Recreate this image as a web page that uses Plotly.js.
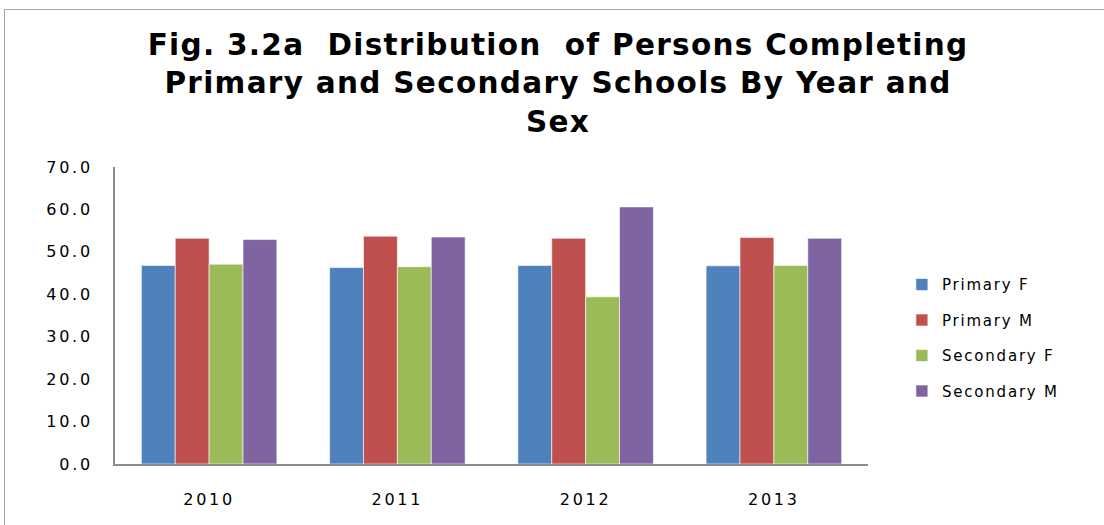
<!DOCTYPE html>
<html>
<head>
<meta charset="utf-8">
<script src="https://cdn.plot.ly/plotly-3.0.1.min.js"></script>
<style>
  html, body { margin: 0; padding: 0; background: #fff; overflow: hidden; }
  #wrap { position: relative; width: 1104px; height: 525px; }
  #chart { position: absolute; left: 0; top: 0; width: 1104px; height: 525px; }
  #frame { position: absolute; left: 4px; top: 9px; width: 1120px; height: 540px; border: 1.5px solid #a6a6a6; pointer-events: none; }
  .xtick text, .ytick text { letter-spacing: 2.7px; }
  .legendtext { letter-spacing: 1.8px; }
  .gtitle { letter-spacing: 1.3px; }
</style>
</head>
<body>
<div id="wrap">
  <div id="chart"></div>
  <div id="frame"></div>
</div>
<script>
const years = ["2010", "2011", "2012", "2013"];
const primaryF = [46.8, 46.3, 46.8, 46.7];
const primaryM = [53.2, 53.7, 53.2, 53.4];
const secondaryF = [47.1, 46.5, 39.4, 46.8];
const secondaryM = [52.9, 53.5, 60.6, 53.2];
const seriesNames = ["Primary F", "Primary M", "Secondary F", "Secondary M"];
const seriesColors = ["#4F81BD", "#C0504D", "#9BBB59", "#8064A2"];
const yTicks = [0, 10, 20, 30, 40, 50, 60, 70];

const seriesValues = [primaryF, primaryM, secondaryF, secondaryM];
const traces = seriesValues.map((vals, i) => ({
  type: "bar",
  x: years,
  y: vals,
  name: seriesNames[i],
  legendgroup: "g" + i,
  marker: { color: seriesColors[i], line: { color: "rgba(255,255,255,0.6)", width: 1 } },
  hoverinfo: "skip"
}));

const layout = {
  width: 1104,
  height: 525,
  margin: { l: 115, r: 236, t: 167, b: 61 },
  paper_bgcolor: "rgba(0,0,0,0)",
  plot_bgcolor: "rgba(0,0,0,0)",
  barmode: "group",
  bargap: 0.28,
  bargroupgap: 0,
  showlegend: true,
  title: {
    text: "Fig. 3.2a  Distribution  of Persons Completing<br>Primary and Secondary Schools By Year and<br>Sex",
    font: { family: "'DejaVu Sans', Verdana, sans-serif", size: 29.5, color: "#000", weight: "bold" },
    x: 0.5055,
    xanchor: "center",
    xref: "container",
    y: 0.895,
    yref: "container",
    yanchor: "top"
  },
  xaxis: {
    type: "category",
    showgrid: false,
    zeroline: false,
    showline: true,
    linecolor: "#8c8c8c",
    linewidth: 2,
    ticks: "outside",
    ticklen: 20,
    tickcolor: "rgba(0,0,0,0)",
    tickfont: { family: "'DejaVu Sans', Verdana, sans-serif", size: 16, color: "#000" }
  },
  yaxis: {
    range: [0, 70],
    tickvals: yTicks,
    ticktext: yTicks.map(v => v.toFixed(1)),
    showgrid: false,
    zeroline: false,
    showline: true,
    linecolor: "#8c8c8c",
    linewidth: 2,
    ticks: "outside",
    ticklen: 17,
    tickcolor: "rgba(0,0,0,0)",
    tickfont: { family: "'DejaVu Sans', Verdana, sans-serif", size: 16, color: "#000" }
  },
  legend: {
    x: 1.045,
    xanchor: "left",
    y: 0.425,
    yanchor: "middle",
    traceorder: "grouped",
    tracegroupgap: 13,
    font: { family: "'DejaVu Sans', Verdana, sans-serif", size: 15, color: "#000" },
    bgcolor: "rgba(0,0,0,0)",
    itemwidth: 30
  }
};

Plotly.newPlot("chart", traces, layout, { displayModeBar: false, staticPlot: true });
</script>
</body>
</html>
